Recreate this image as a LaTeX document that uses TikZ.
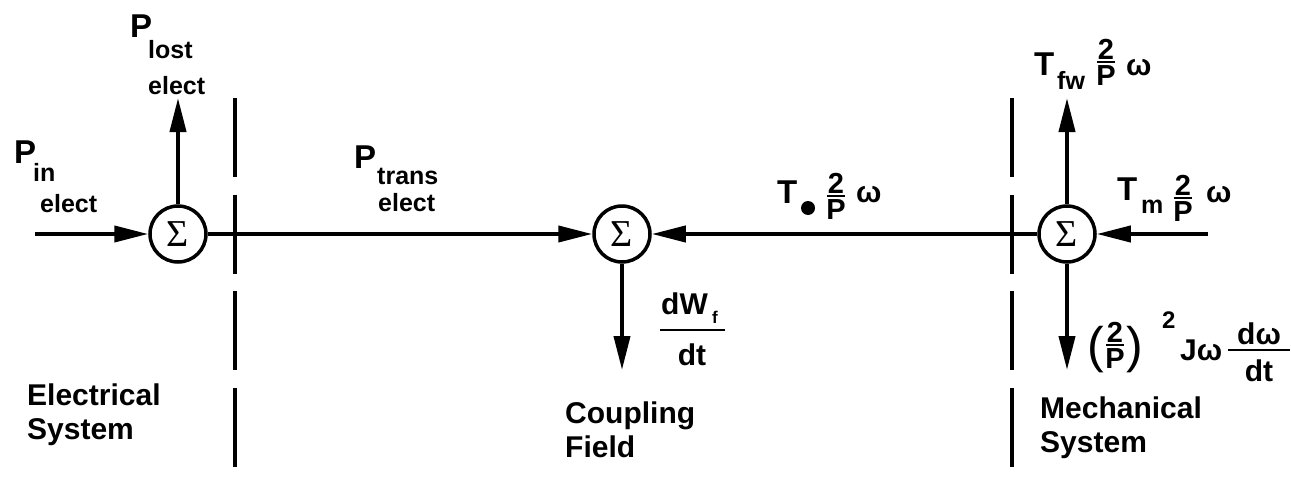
\documentclass[tikz,border=0pt]{standalone}
\usepackage{fontspec}
\setmainfont{Liberation Sans}
\newfontfamily\sigfont{Liberation Serif}
\usetikzlibrary{arrows.meta}
\newcommand{\twoP}[3]{% name, x, y of bar
  \node[frc, anchor=base] (#1two) at (#2,#3-3) {2};
  \draw[line width=2.4pt] (#2-9,#3) -- (#2+9,#3);
  \node[frc, anchor=north] (#1P) at (#2,#3+3) {P};
}
\begin{document}
\begin{tikzpicture}[x=1pt,y=-1pt,
  sumnode/.style={circle,draw,line width=3.5pt,minimum size=56pt,inner sep=0pt,
    font=\sigfont\fontsize{38}{38}\selectfont},
  flow/.style={line width=4pt,-{Triangle[length=34pt,width=16pt]}},
  divider/.style={line width=4pt,dash pattern=on 79pt off 17.5pt},
  big/.style={font=\bfseries\fontsize{33}{33}\selectfont, inner sep=0pt},
  sub/.style={font=\bfseries\fontsize{25}{25}\selectfont, inner sep=0pt},
  frc/.style={font=\bfseries\fontsize{29}{29}\selectfont, inner sep=0pt},
  om/.style={font=\bfseries\fontsize{30}{30}\selectfont, inner sep=0pt},
  expr/.style={font=\bfseries\fontsize{30}{30}\selectfont, inner sep=0pt},
  paren/.style={font=\fontsize{50}{50}\selectfont, inner sep=0pt, anchor=base},
  lbl/.style={font=\bfseries\fontsize{30}{34}\selectfont, align=left, inner sep=0pt, anchor=base west}]
\useasboundingbox (0,0) rectangle (1291,479);

% summing junctions
\node[sumnode] (L) at (178,234) {Σ};
\node[sumnode] (M) at (622,234) {Σ};
\node[sumnode] (R) at (1067,234) {Σ};

% free ends
\coordinate (in) at (35,234);
\coordinate (lup) at (178,98);
\coordinate (mdown) at (622,370);
\coordinate (rup) at (1067,98);
\coordinate (rdown) at (1067,370);
\coordinate (rin) at (1208,234);

% connectors
\draw[flow] (in) -- (L);
\draw[flow] (L) -- (lup);
\draw[flow] (L) -- (M);
\draw[flow] (R) -- (M);
\draw[flow] (rin) -- (R);
\draw[flow] (M) -- (mdown);
\draw[flow] (R) -- (rup);
\draw[flow] (R) -- (rdown);

% system boundaries
\coordinate (d1t) at (235,98);
\coordinate (d1b) at (235,468);
\coordinate (d2t) at (1012,98);
\coordinate (d2b) at (1012,468);
\draw[divider] (d1t) -- (d1b);
\draw[divider] (d2t) -- (d2b);

% P in elect
\node[big, anchor=base west] (pin) at (14,163) {P};
\node[sub, anchor=base west] (pinsub) at (33,181) {in};
\node[sub, anchor=base west] (pinel) at (40,212) {elect};

% P lost elect
\node[big, anchor=base west] (plost) at (130,37) {P};
\node[sub, anchor=base west] (plostsub) at (148,58) {lost};
\node[sub, anchor=base west] (plostel) at (148,94) {elect};

% P trans elect
\node[big, anchor=base west] (ptr) at (354,168) {P};
\node[sub, anchor=base west] (ptrsub) at (377,184) {trans};
\node[sub, anchor=base west] (ptrel) at (378,211) {elect};

% T_e 2/P omega
\node[big, anchor=base west] (te) at (777,203) {T};
\fill (808,208) circle (7);
\twoP{te}{836}{196}
\node[om, anchor=base west] (teo) at (856,202) {ω};

% T_fw 2/P omega
\node[big, anchor=base west] (tfw) at (1034,75) {T};
\node[sub, anchor=base west] (tfwsub) at (1057,89) {fw};
\twoP{tfw}{1106}{62}
\node[om, anchor=base west] (tfwo) at (1126,75) {ω};

% T_m 2/P omega
\node[big, anchor=base west] (tm) at (1117,200) {T};
\node[sub, anchor=base west] (tmsub) at (1141,213) {m};
\twoP{tm}{1183}{198}
\node[om, anchor=base west] (tmo) at (1206,202) {ω};

% dW_f / dt
\node[expr, anchor=base west] (dw) at (661,314) {dW};
\node[font=\bfseries\fontsize{17}{17}\selectfont, inner sep=0pt, anchor=base west] (dwf) at (712,323) {f};
\draw[line width=2.2pt] (660,330) -- (725,330);
\node[expr, anchor=base] (dwdt) at (692,365) {dt};

% (2/P)^2 J omega domega/dt
\node[paren] (lp) at (1096,362) {(};
\twoP{rr}{1115}{345}
\node[paren] (rp) at (1135,362) {)};
\node[font=\bfseries\fontsize{24}{24}\selectfont, inner sep=0pt, anchor=base west] (sq) at (1162,328) {2};
\node[expr, anchor=base west] (jw) at (1180,360) {Jω};
\node[expr, anchor=base] (dom) at (1259,344) {dω};
\draw[line width=2.2pt] (1228,350) -- (1290,350);
\node[expr, anchor=base] (dodt) at (1259,381) {dt};

% region labels
\node[lbl] (elec) at (27,439) {Electrical\\System};
\node[lbl] (coup) at (565,457) {Coupling\\Field};
\node[lbl] (mech) at (1040,452) {Mechanical\\System};
\end{tikzpicture}
\end{document}
